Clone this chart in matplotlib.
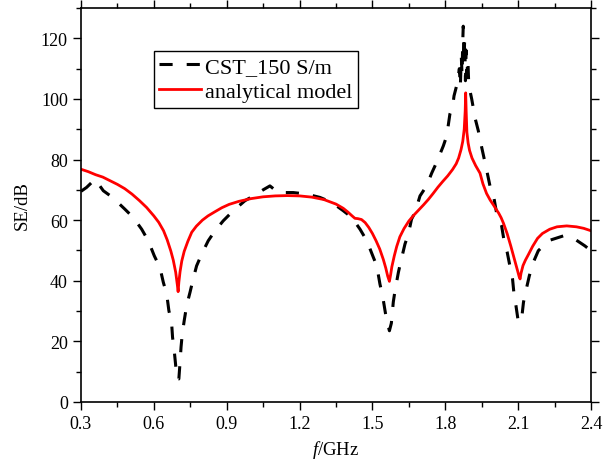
import numpy as np
import matplotlib.pyplot as plt
from matplotlib.ticker import MultipleLocator

plt.rcParams['font.family'] = ['Liberation Serif', 'DejaVu Serif']
plt.rcParams['mathtext.fontset'] = 'custom'
plt.rcParams['mathtext.it'] = 'Liberation Serif:italic'
plt.rcParams['mathtext.rm'] = 'Liberation Serif'

# CST simulation, 150 S/m (black dashed)
cst_f = [0.30, 0.323, 0.358, 0.392, 0.43, 0.481, 0.515, 0.55, 0.577, 0.602,
         0.625, 0.639, 0.653, 0.662, 0.673, 0.677, 0.684, 0.69, 0.694, 0.703,
         0.708, 0.712, 0.717, 0.725, 0.735, 0.749, 0.762, 0.776, 0.797, 0.824,
         0.852, 0.886, 0.927, 0.975, 1.023, 1.05, 1.078, 1.112, 1.174, 1.229,
         1.284, 1.332, 1.38, 1.415, 1.449, 1.477, 1.504, 1.518, 1.531, 1.542,
         1.552, 1.559, 1.570, 1.578, 1.586, 1.593, 1.607, 1.616, 1.634, 1.648,
         1.661, 1.675, 1.696, 1.723, 1.744, 1.764, 1.792, 1.806, 1.819, 1.83,
         1.836, 1.85, 1.858, 1.862, 1.866, 1.869, 1.872, 1.874, 1.877, 1.880,
         1.883, 1.886, 1.889, 1.893, 1.897, 1.902, 1.909, 1.915, 1.922, 1.936,
         1.95, 1.971, 1.984, 2.0, 2.012, 2.032, 2.042, 2.055, 2.066, 2.077,
         2.083, 2.091, 2.101, 2.115, 2.122, 2.132, 2.146, 2.162, 2.183, 2.224,
         2.286, 2.334, 2.375, 2.40]
cst_se = [69.5, 70.8, 73.5, 69.7, 67.5, 63.6, 60.9, 57.0, 53.2, 48.2,
          44.4, 39.5, 35.6, 30.1, 26.3, 21.4, 16.9, 12.0, 7.6, 7.6,
          13.2, 18.1, 22.4, 26.8, 31.8, 36.2, 40.6, 44.9, 48.8, 53.2,
          56.5, 59.8, 63.1, 66.4, 68.6, 70.0, 71.3, 69.1, 69.1, 68.6,
          67.5, 65.9, 63.1, 60.9, 57.0, 53.2, 47.7, 44.9, 38.9, 35.0,
          30.1, 26.8, 23.5, 26.0, 33.0, 36.7, 42.8, 46.0, 52.1, 55.4,
          60.3, 62.5, 68.0, 71.3, 75.5, 79.0, 84.5, 87.8, 95.0, 97.2,
          101.0, 105.4, 110.0, 104.0, 114.0, 108.0, 119.0, 124.0, 112.0, 120.0,
          106.0, 116.0, 108.0, 113.0, 104.0, 102.6, 99.9, 97.2, 93.9, 89.5,
          84.0, 76.3, 71.3, 67.5, 62.0, 58.1, 53.2, 49.4, 44.9, 40.6,
          35.6, 31.8, 26.3, 27.9, 32.9, 36.7, 41.6, 46.0, 49.9, 53.2,
          54.8, 53.7, 51.5, 49.9]

# analytical model (red solid)
model_f = [0.30, 0.33, 0.36, 0.39, 0.42, 0.45, 0.48, 0.51, 0.54, 0.57,
           0.60, 0.62, 0.64, 0.655, 0.67, 0.68, 0.69, 0.697, 0.700, 0.703,
           0.708, 0.715, 0.725, 0.74, 0.756, 0.775, 0.80, 0.823, 0.85, 0.88,
           0.91, 0.95, 1.00, 1.05, 1.10, 1.15, 1.20, 1.25, 1.30, 1.35,
           1.38, 1.40, 1.415, 1.428, 1.44, 1.455, 1.47, 1.485, 1.50, 1.515,
           1.53, 1.545, 1.555, 1.563, 1.570, 1.575, 1.58, 1.59, 1.60, 1.613,
           1.63, 1.65, 1.67, 1.69, 1.71, 1.73, 1.75, 1.77, 1.79, 1.81,
           1.83, 1.845, 1.855, 1.865, 1.872, 1.878, 1.882, 1.884, 1.886, 1.889,
           1.894, 1.90, 1.91, 1.925, 1.943, 1.955, 1.97, 1.985, 2.00, 2.01,
           2.02, 2.03, 2.04, 2.055, 2.07, 2.085, 2.097, 2.104, 2.108, 2.112,
           2.12, 2.13, 2.142, 2.16, 2.18, 2.20, 2.23, 2.26, 2.30, 2.34,
           2.37, 2.40]
model_se = [76.8, 76.0, 75.0, 74.2, 73.0, 71.8, 70.4, 68.6, 66.5, 64.2,
            61.4, 59.3, 56.5, 53.5, 49.8, 46.8, 42.8, 38.5, 36.4, 39.5,
            43.0, 46.5, 49.7, 53.0, 56.0, 58.0, 60.0, 61.4, 62.7, 64.1,
            65.2, 66.2, 67.1, 67.7, 68.0, 68.1, 68.0, 67.6, 66.8, 65.3,
            63.9, 62.6, 61.5, 60.6, 60.5, 60.2, 59.2, 57.6, 55.6, 53.2,
            50.5, 47.0, 44.2, 41.5, 39.8, 42.0, 44.6, 48.2, 51.3, 54.5,
            57.2, 59.7, 61.6, 63.3, 65.0, 66.8, 68.8, 70.9, 72.8, 74.6,
            76.7, 78.6, 80.5, 83.3, 86.0, 90.0, 96.0, 102.0, 96.0, 89.0,
            85.5, 83.0, 80.5, 78.0, 75.5, 72.0, 68.8, 66.6, 64.8, 63.5,
            62.3, 60.8, 58.9, 55.5, 51.4, 47.0, 43.5, 41.4, 40.6, 42.5,
            45.0, 46.8, 48.6, 51.4, 54.0, 55.6, 57.0, 57.8, 58.1, 57.8,
            57.3, 56.5]

fig = plt.figure(figsize=(6.13, 4.64), dpi=100)
ax = fig.add_axes([0.1321, 0.1315, 0.8320, 0.8491])

ax.plot(cst_f, cst_se, color='black', lw=2.2, ls=(0, (4.3, 4.6)),
        label='CST_150 S/m')
ax.plot(model_f, model_se, color='#ff0000', lw=2.0, label='analytical model')

ax.set_xlim(0.3, 2.4)
ax.set_ylim(0, 130)
xt = [0.3, 0.6, 0.9, 1.2, 1.5, 1.8, 2.1, 2.4]
ax.set_xticks(xt)
ax.set_xticklabels(['%.1f' % t for t in xt])
ax.xaxis.set_minor_locator(MultipleLocator(0.15))
ax.yaxis.set_major_locator(MultipleLocator(20))
ax.yaxis.set_minor_locator(MultipleLocator(10))
ax.set_xlim(0.3, 2.4)

ax.tick_params(which='both', direction='out', top=True, right=True,
               labelsize=13, width=1.0)
ax.tick_params(which='major', length=6)
ax.tick_params(which='minor', length=3.5)
for s in ax.spines.values():
    s.set_linewidth(1.2)

ax.set_xlabel('$f$/GHz', fontsize=13.5, labelpad=4)
ax.set_ylabel('SE/dB', fontsize=13.5, labelpad=7)

leg = ax.legend(loc='upper left', bbox_to_anchor=(0.143, 0.891),
                borderaxespad=0, fontsize=16, fancybox=False, framealpha=1,
                edgecolor='black', handlelength=1.85, handletextpad=0.2,
                borderpad=0.25, labelspacing=0.2)
leg.get_frame().set_linewidth(1.0)

fig.savefig('out.png', dpi=100)
